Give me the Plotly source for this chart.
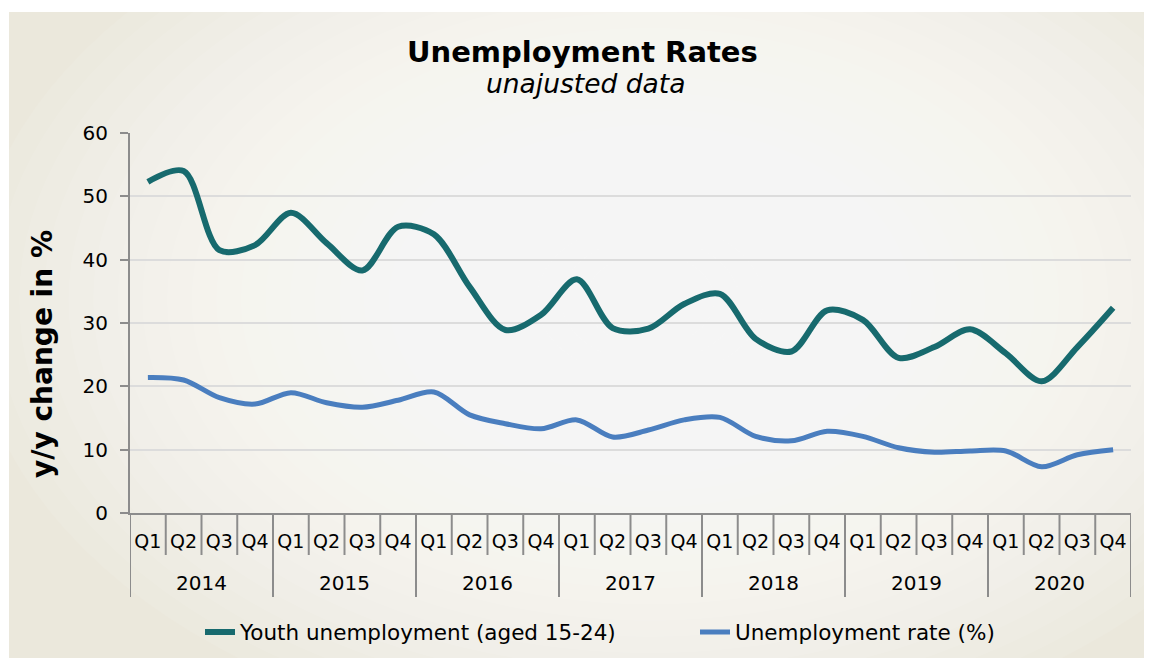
import plotly.graph_objects as go

years = ["2014", "2015", "2016", "2017", "2018", "2019", "2020"]
quarters = ["Q1", "Q2", "Q3", "Q4"]

youth = [52.3, 54.0, 41.5, 42.3,
         47.4, 42.6, 38.3, 45.2,
         44.0, 35.7, 28.9, 31.3,
         36.9, 29.2, 29.1, 33.0,
         34.6, 27.5, 25.5, 32.0,
         30.5, 24.5, 26.2, 29.0,
         25.2, 20.8, 26.2, 32.4]

rate = [21.4, 21.0, 18.2, 17.2,
        19.0, 17.4, 16.7, 17.8,
        19.1, 15.5, 14.1, 13.3,
        14.7, 12.0, 13.1, 14.7,
        15.1, 12.1, 11.4, 12.9,
        12.1, 10.3, 9.6, 9.8,
        9.8, 7.3, 9.2, 10.0]

series_names = ["Youth unemployment (aged 15-24)", "Unemployment rate (%)"]
colors = ["#176a6e", "#4a7ebf"]

categories = [f"{y} {q}" for y in years for q in quarters]
tick_text = [q for _ in years for q in quarters]

FONT = "DejaVu Sans, Verdana, sans-serif"

# The page body has an 8px margin; the figure is sized so it fits the window
OFF = 8
FW, FH = 1152 - 2 * OFF, 666 - 2 * OFF
# plot area on screen: x 130..1131, y 133..513
SL, SR, ST, SB = 130, 1131, 133, 513
L, T = SL - OFF, ST - OFF
R, B = FW - (SR - OFF), FH - (SB - OFF)
W, H = SR - SL, SB - ST

def px(sx):
    return (sx - SL) / W

def py(sy):
    return (SB - sy) / H

fig = go.Figure()
fig.add_trace(go.Scatter(x=categories, y=youth, mode="lines", name=series_names[0],
                         line=dict(color=colors[0], width=6, shape="spline", smoothing=0.9),
                         legend="legend"))
fig.add_trace(go.Scatter(x=categories, y=rate, mode="lines", name=series_names[1],
                         line=dict(color=colors[1], width=5, shape="spline", smoothing=0.9),
                         legend="legend2"))

shapes = []
# beige background panel
shapes.append(dict(type="rect", xref="paper", yref="paper",
                   x0=px(9), x1=px(1170), y0=py(700), y1=py(12),
                   fillcolor="#ebe8dc", line=dict(width=0), layer="below"))
# soft radial gradient to white in the middle
cx, cy = 650, 300
steps = 26
for i in range(steps):
    f = 1 - i / steps
    rx, ry = 640 * f + 40, 420 * f + 30
    shapes.append(dict(type="circle", xref="paper", yref="paper",
                       x0=px(cx - rx), x1=px(cx + rx), y0=py(cy + ry), y1=py(cy - ry),
                       fillcolor="rgba(255,255,255,0.085)", line=dict(width=0), layer="below"))

# quarter boundary ticks and year dividers on the category axis
n = len(categories)
for i in range(n + 1):
    is_year = (i % len(quarters) == 0)
    shapes.append(dict(type="line", xref="x", yref="paper",
                       x0=i - 0.5, x1=i - 0.5, y0=0, y1=py(597 if is_year else 555),
                       line=dict(color="#8c8c8c", width=2), layer="above"))

annotations = [
    dict(text="<b>Unemployment Rates</b>", xref="paper", yref="paper",
         x=px(582), y=py(52), xanchor="center", yanchor="middle", showarrow=False,
         font=dict(size=29, family=FONT, color="#000000")),
    dict(text="<i>unajusted data</i>", xref="paper", yref="paper",
         x=px(585), y=py(84), xanchor="center", yanchor="middle", showarrow=False,
         font=dict(size=26.5, family=FONT, color="#000000")),
    dict(text="<b>y/y change in %</b>", xref="paper", yref="paper",
         x=px(42), y=py(354), xanchor="center", yanchor="middle", showarrow=False,
         textangle=-90, font=dict(size=28, family=FONT, color="#000000")),
]
for k, yr in enumerate(years):
    annotations.append(dict(text=yr, xref="x", yref="paper",
                            x=k * len(quarters) + (len(quarters) - 1) / 2, y=py(583),
                            xanchor="center", yanchor="middle", showarrow=False,
                            font=dict(size=20, family=FONT, color="#000000")))

fig.update_layout(
    width=FW, height=FH,
    margin=dict(l=L, r=R, t=T, b=B, autoexpand=False),
    paper_bgcolor="white",
    plot_bgcolor="rgba(0,0,0,0)",
    font=dict(family=FONT, color="#000000", size=18),
    shapes=shapes,
    annotations=annotations,
    showlegend=True,
    legend=dict(orientation="h", x=px(200), xanchor="left", y=py(632), yanchor="middle",
                bgcolor="rgba(0,0,0,0)", font=dict(size=21.5, family=FONT)),
    legend2=dict(orientation="h", x=px(695), xanchor="left", y=py(632), yanchor="middle",
                 bgcolor="rgba(0,0,0,0)", font=dict(size=21.5, family=FONT)),
)

fig.update_yaxes(range=[0, 60], dtick=10, showgrid=True, gridcolor="#dcdcdc", gridwidth=2,
                 showline=True, linecolor="#8c8c8c", linewidth=2,
                 ticks="outside", ticklen=8, tickcolor="#8c8c8c", tickwidth=2,
                 ticklabelstandoff=8,
                 tickfont=dict(size=20, family=FONT), zeroline=False)
fig.update_xaxes(type="category", categoryorder="array", categoryarray=categories,
                 range=[-0.5, n - 0.5],
                 tickvals=categories, ticktext=tick_text,
                 showline=True, linecolor="#8c8c8c", linewidth=2,
                 ticks="", ticklabelstandoff=10, tickangle=0,
                 showgrid=False, tickfont=dict(size=19, family=FONT))

fig.write_html("out.html")
